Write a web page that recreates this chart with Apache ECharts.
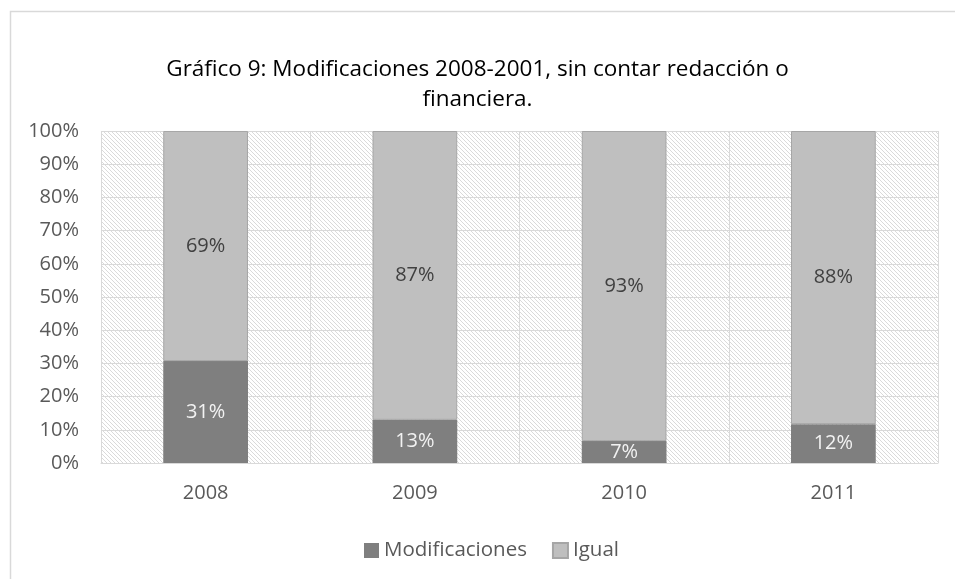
<!DOCTYPE html>
<html>
<head>
<meta charset="utf-8">
<script src="https://cdn.jsdelivr.net/npm/echarts@6/dist/echarts.min.js"></script>
<style>html,body{margin:0;padding:0;background:#fff;}#c{width:955px;height:579px;}</style>
</head>
<body>
<div id="c"></div>
<script>
const titleText = 'Gráfico 9: Modificaciones 2008-2001, sin contar redacción o\nfinanciera.';
const categories = ['2008', '2009', '2010', '2011'];
const modificaciones = [30.7, 13, 6.6, 11.7];
const igual = [69.3, 87, 93.4, 88.3];
const seriesNames = ['Modificaciones', 'Igual'];
const yTicks = [0, 10, 20, 30, 40, 50, 60, 70, 80, 90, 100];

const FONT = '"Open Sans", sans-serif';

// hatch pattern
const pc = document.createElement('canvas');
pc.width = 4; pc.height = 4;
const pctx = pc.getContext('2d');
pctx.fillStyle = '#ffffff';
pctx.fillRect(0, 0, 4, 4);
pctx.fillStyle = '#dadada';
for (let i = 0; i < 4; i++) pctx.fillRect(i, i, 1, 1);

const chart = echarts.init(document.getElementById('c'), null, {renderer: 'canvas'});
chart.setOption({
  animation: false,
  backgroundColor: '#ffffff',
  title: {
    text: titleText,
    left: 'center',
    top: 50,
    textStyle: {fontFamily: FONT, fontSize: 22.5, fontWeight: 'normal', color: '#000000', lineHeight: 30}
  },
  graphic: [{
    type: 'rect', left: 8, top: 9, silent: true,
    shape: {width: 960, height: 600},
    style: {fill: 'none', stroke: '#d9d9d9', lineWidth: 1.5},
    z: -10
  }],
  legend: {
    data: seriesNames,
    left: 359,
    top: 535,
    itemWidth: 15,
    itemHeight: 15,
    itemGap: 25,
    icon: 'rect',
    textStyle: {fontFamily: FONT, fontSize: 20.5, color: '#595959'}
  },
  grid: {
    left: 101, right: 17, top: 131, bottom: 116,
    show: true,
    borderWidth: 0,
    backgroundColor: {image: pc, repeat: 'repeat'}
  },
  xAxis: {
    type: 'category',
    data: categories,
    axisLine: {show: true, lineStyle: {color: '#d9d9d9', width: 1}},
    axisTick: {show: false},
    splitLine: {show: true, lineStyle: {color: '#d9d9d9', width: 1}},
    axisLabel: {fontFamily: FONT, fontSize: 20, color: '#595959', margin: 20}
  },
  yAxis: {
    type: 'value',
    min: yTicks[0], max: yTicks[yTicks.length - 1], interval: 10,
    axisLine: {show: false},
    axisTick: {show: false},
    splitLine: {show: true, lineStyle: {color: '#d9d9d9', width: 1}},
    axisLabel: {fontFamily: FONT, fontSize: 20, color: '#595959', margin: 22, formatter: v => v + '%'}
  },
  series: [
    {
      name: seriesNames[0], type: 'bar', stack: 'total',
      data: modificaciones,
      barWidth: '40.5%',
      itemStyle: {color: '#7f7f7f'},
      label: {show: true, position: 'inside', fontFamily: FONT, fontSize: 20, color: '#f2f2f2', formatter: p => Math.round(p.value) + '%'}
    },
    {
      name: seriesNames[1], type: 'bar', stack: 'total',
      data: igual,
      barWidth: '40.5%',
      itemStyle: {color: '#bfbfbf', borderColor: '#a6a6a6', borderWidth: 1},
      label: {show: true, position: 'inside', fontFamily: FONT, fontSize: 20, color: '#404040', formatter: p => Math.round(p.value) + '%'}
    }
  ]
});
</script>
</body>
</html>
